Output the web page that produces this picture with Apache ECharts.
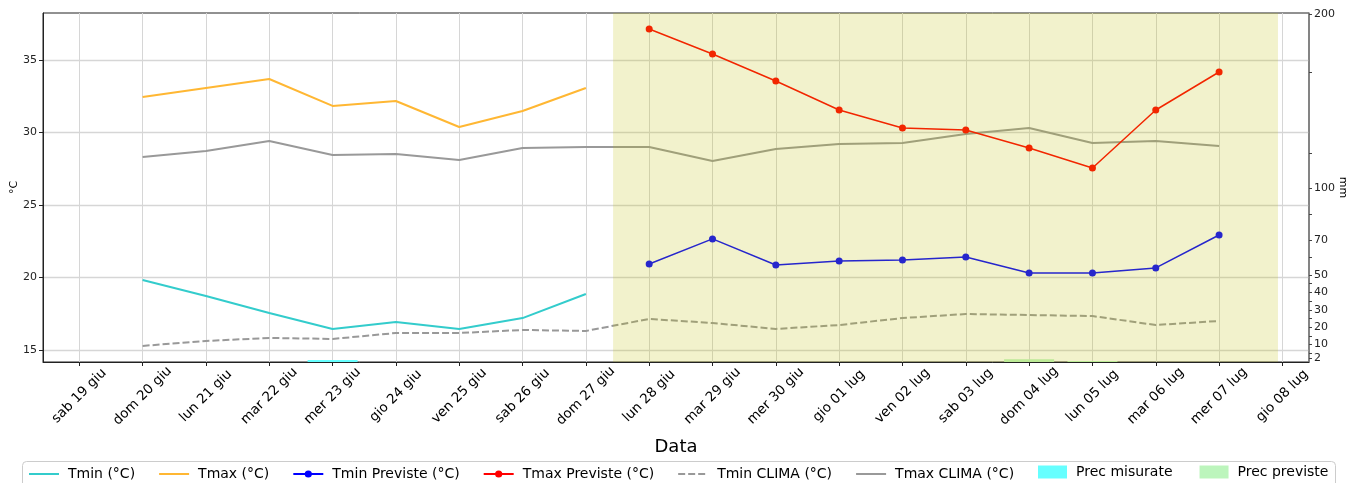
<!DOCTYPE html>
<html>
<head>
<meta charset="utf-8">
<script src="https://cdn.jsdelivr.net/npm/echarts@6/dist/echarts.min.js"></script>
<style>html,body{margin:0;padding:0;background:#fff;}#c{width:1359px;height:483px;}</style>
</head>
<body>
<div id="c"></div>
<script>
const categories = ['sab 19 giu','dom 20 giu','lun 21 giu','mar 22 giu','mer 23 giu','gio 24 giu','ven 25 giu','sab 26 giu','dom 27 giu','lun 28 giu','mar 29 giu','mer 30 giu','gio 01 lug','ven 02 lug','sab 03 lug','dom 04 lug','lun 05 lug','mar 06 lug','mer 07 lug','gio 08 lug'];
const tmin = [null,19.83,18.72,17.55,16.45,16.93,16.45,17.2,18.86,null,null,null,null,null,null,null,null,null,null,null];
const tmax = [null,32.45,33.07,33.69,31.83,32.17,30.38,31.48,33.07,null,null,null,null,null,null,null,null,null,null,null];
const tminPrev = [null,null,null,null,null,null,null,null,null,20.93,22.66,20.86,21.14,21.21,21.41,20.31,20.31,20.66,22.93,null];
const tmaxPrev = [null,null,null,null,null,null,null,null,null,37.14,35.41,33.55,31.55,30.31,30.17,28.93,27.55,31.55,34.17,null];
const tminClima = [null,15.28,15.62,15.83,15.76,16.17,16.17,16.38,16.31,17.14,16.86,16.45,16.72,17.2,17.48,17.41,17.34,16.72,17.0,null];
const tmaxClima = [null,28.31,28.72,29.41,28.45,28.52,28.1,28.93,29.0,29.0,28.03,28.86,29.2,29.28,29.9,30.31,29.28,29.41,29.07,null];
const precMis = [null,null,null,null,1.15,null,null,null,null,null,null,null,null,null,null,null,null,null,null,null];
const precPrev = [null,null,null,null,null,null,null,null,null,null,null,null,null,null,null,1.55,0.6,null,null,null];
const forecastSpan = [8.43, 18.93];
const tempTicks = [15,20,25,30,35];
const precTicks = [2,10,20,30,40,50,70,100,200];
const precMinorTicks = [5,15,25,35,45,60,85,120,166.7];

const X_MIN = -0.573, X_MAX = 19.42;
const T_MIN = 14.17, T_MAX = 38.24;
const P_MIN = 0, P_MAX = 200.57;

function pairs(arr){ const out=[]; arr.forEach((v,i)=>{ if(v!==null) out.push([i,v]); }); return out; }

const FONT = 'DejaVu Sans';
const chart = echarts.init(document.getElementById('c'), null, {renderer:'canvas'});
const idx = categories.map((_,i)=>i);
const legendText = {fontFamily:FONT, fontSize:14, color:'#000', padding:[0,0,0,4]};

chart.setOption({
  animation:false,
  backgroundColor:'#fff',
  textStyle:{fontFamily:FONT},
  grid:{left:43, top:13, width:1266, height:349, show:true, borderColor:'#222', borderWidth:1,
        backgroundColor:'transparent', outerBoundsMode:'none', containLabel:false},
  graphic:[{type:'rect', left:22, top:461, shape:{width:1313, height:40, r:4},
            style:{fill:'#fff', stroke:'#cccccc', lineWidth:1}, z:-1, silent:true}],
  legend:[
    {left:28, top:467, padding:0, itemGap:23, itemWidth:30, itemHeight:9,
     textStyle:legendText,
     data:[
      {name:'Tmin (°C)', itemStyle:{opacity:0}},
      {name:'Tmax (°C)', itemStyle:{opacity:0}},
      {name:'Tmin Previste (°C)'},
      {name:'Tmax Previste (°C)'},
      {name:'Tmin CLIMA (°C)', itemStyle:{opacity:0}},
      {name:'Tmax CLIMA (°C)', itemStyle:{opacity:0}}
     ]},
    {left:1038, top:465, padding:0, itemGap:27, itemWidth:29, itemHeight:13,
     textStyle:legendText,
     data:[{name:'Prec misurate', icon:'rect'},{name:'Prec previste', icon:'rect'}]}
  ],
  xAxis:{
    type:'value', min:X_MIN, max:X_MAX,
    name:'Data', nameLocation:'middle', nameGap:76, nameMoveOverlap:false,
    nameTextStyle:{fontFamily:FONT, fontSize:18, color:'#000'},
    axisLine:{show:true, onZero:false, lineStyle:{color:'#222', width:1}},
    axisTick:{show:true, length:4, lineStyle:{color:'#222'}, customValues:idx},
    axisLabel:{show:true, rotate:45, align:'center', verticalAlign:'middle', fontSize:13.5, color:'#000', fontFamily:FONT, margin:34,
      customValues:idx, formatter:(v)=>categories[Math.round(v)] || ''},
    splitLine:{show:true, lineStyle:{color:'#d6d6d6', width:1}}
  },
  yAxis:[
    {type:'value', min:T_MIN, max:T_MAX, position:'left',
     name:'°C', nameLocation:'middle', nameGap:23, nameRotate:90, nameMoveOverlap:false,
     nameTextStyle:{fontFamily:FONT, fontSize:11, color:'#000'},
     axisLine:{show:true, onZero:false, lineStyle:{color:'#222'}},
     axisTick:{show:true, length:4, lineStyle:{color:'#222'}, customValues:tempTicks},
     axisLabel:{fontSize:11, color:'#222', fontFamily:FONT, margin:6, customValues:tempTicks},
     splitLine:{show:true, lineStyle:{color:'#d6d6d6', width:1.3}}},
    {type:'value', min:P_MIN, max:P_MAX, position:'right',
     name:'mm', nameLocation:'middle', nameGap:28, nameRotate:-90, nameMoveOverlap:false,
     nameTextStyle:{fontFamily:FONT, fontSize:11, color:'#000'},
     axisLine:{show:true, onZero:false, lineStyle:{color:'#808080', width:1.5}},
     axisTick:{show:true, length:3, lineStyle:{color:'#444'}, customValues:precTicks.concat(precMinorTicks)},
     axisLabel:{fontSize:11, color:'#222', fontFamily:FONT, margin:5, customValues:precTicks},
     splitLine:{show:false}}
  ],
  series:[
    {name:'Prec misurate', type:'bar', yAxisIndex:1, barWidth:50, barGap:'-100%', data:pairs(precMis), itemStyle:{color:'#66ffff'}, z:1},
    {name:'Prec previste', type:'bar', yAxisIndex:1, barWidth:50, barGap:'-100%', data:pairs(precPrev), itemStyle:{color:'#bcf5bc'}, z:1},
    {name:'Tmin CLIMA (°C)', type:'line', data:pairs(tminClima), symbol:'none', itemStyle:{color:'#999999'}, lineStyle:{color:'#999999', width:2, type:[7,3]}, z:2},
    {name:'Tmax CLIMA (°C)', type:'line', data:pairs(tmaxClima), symbol:'none', itemStyle:{color:'#999999'}, lineStyle:{color:'#999999', width:2}, z:2},
    {name:'Tmin (°C)', type:'line', data:pairs(tmin), symbol:'none', itemStyle:{color:'#33cccc'}, lineStyle:{color:'#33cccc', width:2}, z:3},
    {name:'Tmax (°C)', type:'line', data:pairs(tmax), symbol:'none', itemStyle:{color:'#ffb733'}, lineStyle:{color:'#ffb733', width:2}, z:3},
    {name:'Tmin Previste (°C)', type:'line', data:pairs(tminPrev), symbol:'circle', symbolSize:7, itemStyle:{color:'#0000ff'}, lineStyle:{color:'#0000ff', width:1.5}, z:3},
    {name:'Tmax Previste (°C)', type:'line', data:pairs(tmaxPrev), symbol:'circle', symbolSize:7, itemStyle:{color:'#ff0000'}, lineStyle:{color:'#ff0000', width:1.5}, z:3},
    {name:'forecast', type:'custom', z:20, silent:true, clip:true,
     data:[forecastSpan],
     encode:{x:[0,1]},
     renderItem:function(params, api){
       const p0 = api.coord([api.value(0), T_MAX]);
       const p1 = api.coord([api.value(1), T_MIN]);
       return {type:'rect', shape:{x:p0[0], y:p0[1], width:p1[0]-p0[0], height:p1[1]-p0[1]},
               style:{fill:'#bfbf00', opacity:0.2}};
     }}
  ]
});
</script>
</body>
</html>
